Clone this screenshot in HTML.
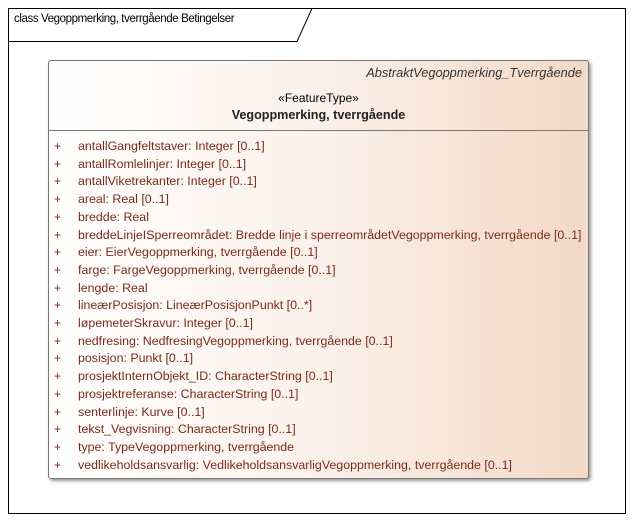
<!DOCTYPE html>
<html><head><meta charset="utf-8"><style>
body{margin:0;width:635px;height:523px;background:#fff;position:relative;overflow:hidden;font-family:"Liberation Sans",sans-serif}
.frame{position:absolute;left:8px;top:8px;width:618px;height:506px;border:1px solid #000;box-sizing:border-box}
.box{position:absolute;left:48px;top:60px;width:541px;height:419px;border:1px solid #777;border-radius:3px;background:linear-gradient(90deg,#fff 0%,#fbf1ea 50%,#f3d9c6 100%);box-shadow:2px 2px 3px #999;box-sizing:border-box}
.t{position:absolute;white-space:nowrap;font-size:12px;color:#000}
.a{position:absolute;white-space:nowrap;font-size:12.4px;color:#7a2a1a;left:78px}
.p{position:absolute;font-size:12px;color:#7a2a1a;left:54px}
</style></head><body>
<div class="frame"></div>
<svg style="position:absolute;left:0;top:0" width="635" height="523"><path d="M8.5 41.5 H297 L312 8.5" fill="none" stroke="#000" stroke-width="1"/></svg>
<div class="t" style="left:14px;top:13px;font-size:11.5px;letter-spacing:-0.4px">class Vegoppmerking, tverrgående Betingelser</div>
<div class="box"></div>
<div style="position:absolute;left:49px;top:130px;width:539px;height:1px;background:#777"></div>
<div class="t" style="right:53px;top:65px;font-style:italic;color:#333;font-size:12.8px">AbstraktVegoppmerking_Tverrgående</div>
<div class="t" style="left:48px;width:541px;text-align:center;top:91px">«FeatureType»</div>
<div class="t" style="left:48px;width:541px;text-align:center;top:108px;font-weight:bold;color:#222;font-size:12.6px">Vegoppmerking, tverrgående</div>
<div class="p" style="top:139px">+</div><div class="a" style="top:139px">antallGangfeltstaver: Integer [0..1]</div>
<div class="p" style="top:156.7px">+</div><div class="a" style="top:156.7px">antallRomlelinjer: Integer [0..1]</div>
<div class="p" style="top:174.4px">+</div><div class="a" style="top:174.4px">antallViketrekanter: Integer [0..1]</div>
<div class="p" style="top:192.1px">+</div><div class="a" style="top:192.1px">areal: Real [0..1]</div>
<div class="p" style="top:209.8px">+</div><div class="a" style="top:209.8px">bredde: Real</div>
<div class="p" style="top:227.5px">+</div><div class="a" style="top:227.5px">breddeLinjeISperreområdet: Bredde linje i sperreområdetVegoppmerking, tverrgående [0..1]</div>
<div class="p" style="top:245.2px">+</div><div class="a" style="top:245.2px">eier: EierVegoppmerking, tverrgående [0..1]</div>
<div class="p" style="top:262.9px">+</div><div class="a" style="top:262.9px">farge: FargeVegoppmerking, tverrgående [0..1]</div>
<div class="p" style="top:280.6px">+</div><div class="a" style="top:280.6px">lengde: Real</div>
<div class="p" style="top:298.3px">+</div><div class="a" style="top:298.3px">lineærPosisjon: LineærPosisjonPunkt [0..*]</div>
<div class="p" style="top:316px">+</div><div class="a" style="top:316px">løpemeterSkravur: Integer [0..1]</div>
<div class="p" style="top:333.7px">+</div><div class="a" style="top:333.7px">nedfresing: NedfresingVegoppmerking, tverrgående [0..1]</div>
<div class="p" style="top:351.4px">+</div><div class="a" style="top:351.4px">posisjon: Punkt [0..1]</div>
<div class="p" style="top:369.1px">+</div><div class="a" style="top:369.1px">prosjektInternObjekt_ID: CharacterString [0..1]</div>
<div class="p" style="top:386.8px">+</div><div class="a" style="top:386.8px">prosjektreferanse: CharacterString [0..1]</div>
<div class="p" style="top:404.5px">+</div><div class="a" style="top:404.5px">senterlinje: Kurve [0..1]</div>
<div class="p" style="top:422.2px">+</div><div class="a" style="top:422.2px">tekst_Vegvisning: CharacterString [0..1]</div>
<div class="p" style="top:439.9px">+</div><div class="a" style="top:439.9px">type: TypeVegoppmerking, tverrgående</div>
<div class="p" style="top:457.6px">+</div><div class="a" style="top:457.6px">vedlikeholdsansvarlig: VedlikeholdsansvarligVegoppmerking, tverrgående [0..1]</div>
</body></html>
